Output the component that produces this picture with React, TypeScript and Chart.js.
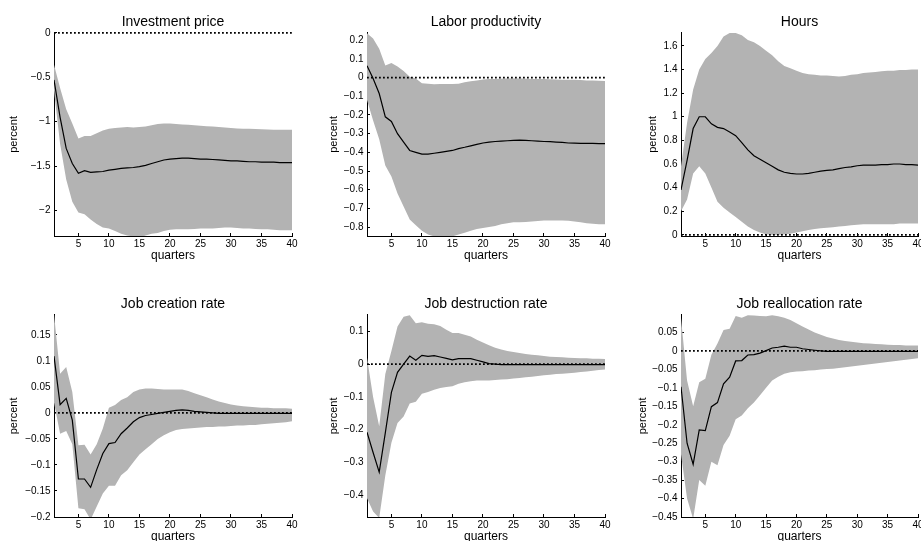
import React, { useEffect, useRef } from 'react';
import { Chart, registerables } from 'chart.js';

Chart.register(...registerables);

const FONT = '"Liberation Sans", Arial, Helvetica, sans-serif';
const BAND = '#b3b3b3';

const quarters = [1, 2, 3, 4, 5, 6, 7, 8, 9, 10, 11, 12, 13, 14, 15, 16, 17, 18, 19, 20, 21, 22, 23, 24, 25, 26, 27, 28, 29, 30, 31, 32, 33, 34, 35, 36, 37, 38, 39, 40];
const xTicks = [5, 10, 15, 20, 25, 30, 35, 40];

// Investment price
const invMedian = [-0.53, -0.95, -1.30, -1.47, -1.58, -1.55, -1.57, -1.565, -1.56, -1.545, -1.535, -1.525, -1.52, -1.515, -1.505, -1.49, -1.47, -1.45, -1.43, -1.42, -1.415, -1.41, -1.41, -1.415, -1.42, -1.42, -1.425, -1.43, -1.435, -1.44, -1.44, -1.445, -1.45, -1.45, -1.455, -1.455, -1.455, -1.46, -1.46, -1.46];
const invUpper = [-0.36, -0.62, -0.86, -1.02, -1.19, -1.16, -1.16, -1.13, -1.10, -1.08, -1.07, -1.065, -1.06, -1.065, -1.06, -1.055, -1.04, -1.025, -1.02, -1.02, -1.025, -1.03, -1.035, -1.04, -1.045, -1.05, -1.055, -1.06, -1.065, -1.07, -1.075, -1.078, -1.08, -1.083, -1.085, -1.087, -1.09, -1.09, -1.09, -1.09];
const invLower = [-0.65, -1.25, -1.65, -1.9, -2.02, -2.04, -2.1, -2.15, -2.19, -2.2, -2.23, -2.26, -2.28, -2.29, -2.3, -2.28, -2.26, -2.25, -2.23, -2.215, -2.21, -2.21, -2.21, -2.205, -2.2, -2.2, -2.2, -2.195, -2.19, -2.19, -2.195, -2.2, -2.2, -2.205, -2.21, -2.21, -2.215, -2.22, -2.22, -2.22];
const invTicks = [-2, -1.5, -1, -0.5, 0];

// Labor productivity
const labMedian = [0.064, -0.005, -0.085, -0.21, -0.235, -0.30, -0.345, -0.39, -0.40, -0.41, -0.41, -0.405, -0.40, -0.395, -0.39, -0.38, -0.373, -0.365, -0.357, -0.35, -0.345, -0.342, -0.34, -0.338, -0.336, -0.335, -0.336, -0.338, -0.34, -0.342, -0.343, -0.345, -0.347, -0.35, -0.351, -0.352, -0.352, -0.352, -0.353, -0.353];
const labUpper = [0.237, 0.21, 0.155, 0.065, 0.078, 0.06, 0.035, 0.005, -0.005, -0.03, -0.033, -0.035, -0.034, -0.034, -0.034, -0.033, -0.025, -0.02, -0.015, -0.01, -0.008, -0.007, -0.006, -0.005, -0.005, -0.005, -0.006, -0.007, -0.008, -0.008, -0.009, -0.01, -0.011, -0.012, -0.012, -0.013, -0.015, -0.016, -0.017, -0.018];
const labLower = [-0.12, -0.23, -0.33, -0.47, -0.53, -0.62, -0.69, -0.76, -0.79, -0.82, -0.84, -0.85, -0.855, -0.855, -0.85, -0.84, -0.83, -0.82, -0.81, -0.805, -0.80, -0.795, -0.785, -0.78, -0.775, -0.775, -0.773, -0.77, -0.768, -0.765, -0.765, -0.765, -0.765, -0.767, -0.77, -0.775, -0.78, -0.783, -0.785, -0.785];
const labTicks = [-0.8, -0.7, -0.6, -0.5, -0.4, -0.3, -0.2, -0.1, 0, 0.1, 0.2];

// Hours
const hrsMedian = [0.38, 0.63, 0.90, 1.00, 1.00, 0.94, 0.91, 0.90, 0.87, 0.84, 0.78, 0.72, 0.67, 0.64, 0.61, 0.58, 0.55, 0.53, 0.52, 0.515, 0.515, 0.52, 0.53, 0.54, 0.545, 0.55, 0.56, 0.57, 0.575, 0.585, 0.59, 0.59, 0.59, 0.595, 0.595, 0.60, 0.60, 0.595, 0.595, 0.59];
const hrsUpper = [0.58, 0.95, 1.23, 1.40, 1.49, 1.54, 1.60, 1.68, 1.71, 1.71, 1.69, 1.65, 1.63, 1.60, 1.56, 1.52, 1.47, 1.43, 1.41, 1.39, 1.37, 1.36, 1.355, 1.35, 1.35, 1.345, 1.34, 1.345, 1.355, 1.36, 1.37, 1.375, 1.38, 1.385, 1.39, 1.39, 1.395, 1.395, 1.40, 1.40];
const hrsLower = [0.20, 0.30, 0.52, 0.58, 0.52, 0.40, 0.28, 0.23, 0.19, 0.15, 0.11, 0.07, 0.04, 0.02, 0.005, 0.0, 0.0, 0.005, 0.01, 0.02, 0.03, 0.04, 0.05, 0.055, 0.06, 0.065, 0.07, 0.075, 0.08, 0.085, 0.09, 0.09, 0.09, 0.09, 0.09, 0.09, 0.095, 0.095, 0.095, 0.095];
const hrsTicks = [0, 0.2, 0.4, 0.6, 0.8, 1, 1.2, 1.4, 1.6];

// Job creation rate
const jcMedian = [0.109, 0.016, 0.028, -0.014, -0.127, -0.127, -0.143, -0.109, -0.078, -0.059, -0.057, -0.04, -0.029, -0.017, -0.009, -0.005, -0.003, -0.001, 0.001, 0.003, 0.005, 0.006, 0.005, 0.003, 0.002, 0.001, 0.0, -0.001, -0.001, -0.001, -0.001, -0.001, -0.001, -0.001, -0.001, -0.001, -0.001, -0.001, -0.001, -0.001];
const jcUpper = [0.19, 0.075, 0.088, 0.04, -0.062, -0.061, -0.08, -0.06, -0.03, 0.01, 0.015, 0.025, 0.03, 0.04, 0.045, 0.047, 0.047, 0.046, 0.045, 0.045, 0.045, 0.045, 0.042, 0.038, 0.034, 0.03, 0.026, 0.022, 0.019, 0.016, 0.014, 0.013, 0.012, 0.011, 0.01, 0.01, 0.009, 0.009, 0.009, 0.008];
const jcLower = [0.02, -0.04, -0.035, -0.06, -0.183, -0.185, -0.205, -0.18, -0.155, -0.14, -0.14, -0.12, -0.11, -0.095, -0.08, -0.07, -0.06, -0.05, -0.043, -0.037, -0.033, -0.031, -0.03, -0.029, -0.028, -0.027, -0.027, -0.026, -0.026, -0.025, -0.024, -0.024, -0.023, -0.023, -0.022, -0.021, -0.02, -0.019, -0.018, -0.016];
const jcTicks = [-0.2, -0.15, -0.1, -0.05, 0, 0.05, 0.1, 0.15];

// Job destruction rate
const jdMedian = [-0.208, -0.27, -0.33, -0.21, -0.086, -0.025, 0.0, 0.025, 0.012, 0.027, 0.024, 0.026, 0.022, 0.018, 0.013, 0.017, 0.017, 0.017, 0.012, 0.007, 0.002, 0.0, -0.001, -0.001, -0.001, -0.001, -0.001, -0.001, -0.001, -0.001, -0.001, -0.001, -0.001, -0.001, -0.001, -0.001, -0.001, -0.001, -0.001, -0.001];
const jdUpper = [0.02, -0.1, -0.19, -0.03, 0.04, 0.115, 0.145, 0.15, 0.125, 0.128, 0.124, 0.122, 0.117, 0.105, 0.095, 0.095, 0.09, 0.085, 0.075, 0.066, 0.058, 0.05, 0.045, 0.04, 0.037, 0.034, 0.031, 0.029, 0.027, 0.025, 0.023, 0.022, 0.021, 0.02, 0.019, 0.018, 0.018, 0.017, 0.017, 0.016];
const jdLower = [-0.41, -0.45, -0.47, -0.34, -0.24, -0.18, -0.16, -0.12, -0.115, -0.09, -0.085, -0.078, -0.073, -0.07, -0.067, -0.06, -0.055, -0.052, -0.05, -0.05, -0.05, -0.048, -0.047, -0.046, -0.044, -0.042, -0.04, -0.038, -0.036, -0.034, -0.032, -0.03, -0.029, -0.028, -0.026, -0.024, -0.022, -0.02, -0.018, -0.016];
const jdTicks = [-0.4, -0.3, -0.2, -0.1, 0, 0.1];

// Job reallocation rate
const jrMedian = [-0.097, -0.25, -0.307, -0.214, -0.216, -0.151, -0.14, -0.089, -0.071, -0.027, -0.026, -0.011, -0.01, -0.006, 0.001, 0.008, 0.01, 0.013, 0.01, 0.01, 0.006, 0.004, 0.002, 0.0, -0.001, -0.001, -0.001, -0.001, -0.001, -0.001, -0.001, -0.001, -0.001, -0.001, -0.001, -0.001, -0.001, -0.001, -0.001, -0.001];
const jrUpper = [0.09, -0.08, -0.15, -0.085, -0.075, -0.01, 0.02, 0.057, 0.06, 0.095, 0.09, 0.097, 0.096, 0.095, 0.094, 0.097, 0.094, 0.09, 0.084, 0.075, 0.066, 0.058, 0.05, 0.044, 0.038, 0.034, 0.03, 0.027, 0.025, 0.023, 0.021, 0.02, 0.019, 0.018, 0.017, 0.016, 0.016, 0.015, 0.015, 0.015];
const jrLower = [-0.28, -0.4, -0.455, -0.35, -0.365, -0.3, -0.31, -0.255, -0.23, -0.185, -0.175, -0.155, -0.14, -0.12, -0.1, -0.08, -0.07, -0.062, -0.058, -0.056, -0.055, -0.053, -0.052, -0.05, -0.049, -0.048, -0.046, -0.044, -0.042, -0.04, -0.038, -0.036, -0.034, -0.032, -0.03, -0.028, -0.026, -0.024, -0.022, -0.02];
const jrTicks = [-0.45, -0.4, -0.35, -0.3, -0.25, -0.2, -0.15, -0.1, -0.05, 0, 0.05];

type PanelSpec = {
  title: string;
  median: number[];
  upper: number[];
  lower: number[];
  yTicks: number[];
  yMin: number;
  yMax: number;
  left: number;
  top: number;
  yW: number;
  areaW: number;
  height: number;
};

const panels: PanelSpec[] = [
  { title: 'Investment price', median: invMedian, upper: invUpper, lower: invLower, yTicks: invTicks, yMin: -2.285, yMax: 0, left: 7, top: 14, yW: 47, areaW: 238, height: 249 },
  { title: 'Labor productivity', median: labMedian, upper: labUpper, lower: labLower, yTicks: labTicks, yMin: -0.848, yMax: 0.24, left: 327, top: 14, yW: 40, areaW: 238, height: 249 },
  { title: 'Hours', median: hrsMedian, upper: hrsUpper, lower: hrsLower, yTicks: hrsTicks, yMin: -0.01, yMax: 1.711, left: 646, top: 14, yW: 35, areaW: 237, height: 249 },
  { title: 'Job creation rate', median: jcMedian, upper: jcUpper, lower: jcLower, yTicks: jcTicks, yMin: -0.2, yMax: 0.1885, left: 7, top: 296, yW: 47, areaW: 238, height: 248 },
  { title: 'Job destruction rate', median: jdMedian, upper: jdUpper, lower: jdLower, yTicks: jdTicks, yMin: -0.467, yMax: 0.151, left: 327, top: 296, yW: 40, areaW: 238, height: 248 },
  { title: 'Job reallocation rate', median: jrMedian, upper: jrUpper, lower: jrLower, yTicks: jrTicks, yMin: -0.45, yMax: 0.098, left: 636, top: 296, yW: 45, areaW: 237, height: 248 },
];

const RIGHT_PAD = 15;
const X_AXIS_H = 27;

function fmt(v: number): string {
  const r = Math.round(v * 10000) / 10000;
  if (r === 0) return '0';
  return (r < 0 ? '\u2212' : '') + String(Math.abs(r));
}

function Panel({ p }: { p: PanelSpec }) {
  const ref = useRef<HTMLCanvasElement>(null);
  const width = p.yW + p.areaW + RIGHT_PAD;

  useEffect(() => {
    if (!ref.current) return;
    const pts = (arr: number[]) => arr.map((y, i) => ({ x: quarters[i], y }));
    const zero = quarters.map((q) => ({ x: q, y: 0 }));
    const axisCommon = {
      grid: {
        drawOnChartArea: false,
        drawTicks: true,
        tickLength: -3,
        color: '#000',
        tickColor: '#000',
        tickWidth: 1,
      },
      border: { display: true, color: '#000', width: 1 },
    };
    const chart = new Chart(ref.current, {
      type: 'line',
      data: {
        datasets: [
          { data: pts(p.median), borderColor: '#000', borderWidth: 1.2, pointRadius: 0, fill: false },
          { data: zero, borderColor: '#000', borderWidth: 1.8, borderDash: [1.8, 2.2], pointRadius: 0, fill: false, clip: 4 },
          { data: pts(p.upper), borderColor: 'rgba(0,0,0,0)', borderWidth: 0, backgroundColor: BAND, pointRadius: 0, fill: '+1' },
          { data: pts(p.lower), borderColor: 'rgba(0,0,0,0)', borderWidth: 0, backgroundColor: BAND, pointRadius: 0, fill: false },
        ],
      },
      options: {
        animation: false,
        responsive: false,
        events: [],
        layout: { autoPadding: false, padding: { left: 0, top: 0, bottom: 0, right: RIGHT_PAD } },
        plugins: {
          legend: { display: false },
          tooltip: { enabled: false },
          title: {
            display: true,
            text: p.title,
            fullSize: false,
            color: '#000',
            font: { family: FONT, size: 14, weight: 'normal' },
            padding: { top: 0, bottom: 2 },
          },
        },
        scales: {
          x: {
            type: 'linear',
            min: 1,
            max: 40,
            afterBuildTicks: (s: any) => {
              s.ticks = xTicks.map((v) => ({ value: v }));
            },
            afterFit: (s: any) => {
              s.height = X_AXIS_H;
            },
            ...axisCommon,
            ticks: {
              padding: 5,
              color: '#000',
              font: { family: FONT, size: 10 },
              maxRotation: 0,
              autoSkip: false,
              callback: (v: any) => String(v),
            },
            title: { display: true, text: 'quarters', color: '#000', font: { family: FONT, size: 12 }, padding: 0 },
          },
          y: {
            type: 'linear',
            min: p.yMin,
            max: p.yMax,
            afterBuildTicks: (s: any) => {
              s.ticks = p.yTicks.map((v) => ({ value: v }));
            },
            afterFit: (s: any) => {
              s.width = p.yW;
            },
            ...axisCommon,
            ticks: {
              padding: 6.5,
              color: '#000',
              font: { family: FONT, size: 10 },
              autoSkip: false,
              callback: (v: any) => fmt(Number(v)),
            },
            title: { display: true, text: 'percent', color: '#000', font: { family: FONT, size: 11 }, padding: 0 },
          },
        },
      },
    } as any);
    return () => chart.destroy();
  }, [p]);

  return (
    <div style={{ position: 'absolute', left: p.left, top: p.top, width, height: p.height }}>
      <canvas ref={ref} width={width} height={p.height} style={{ display: 'block' }} />
    </div>
  );
}

export default function App() {
  return (
    <div
      style={{
        position: 'absolute',
        left: 0,
        top: 0,
        width: 921,
        height: 541,
        overflow: 'hidden',
        background: '#fff',
      }}
    >
      {panels.map((p) => (
        <Panel key={p.title} p={p} />
      ))}
    </div>
  );
}
